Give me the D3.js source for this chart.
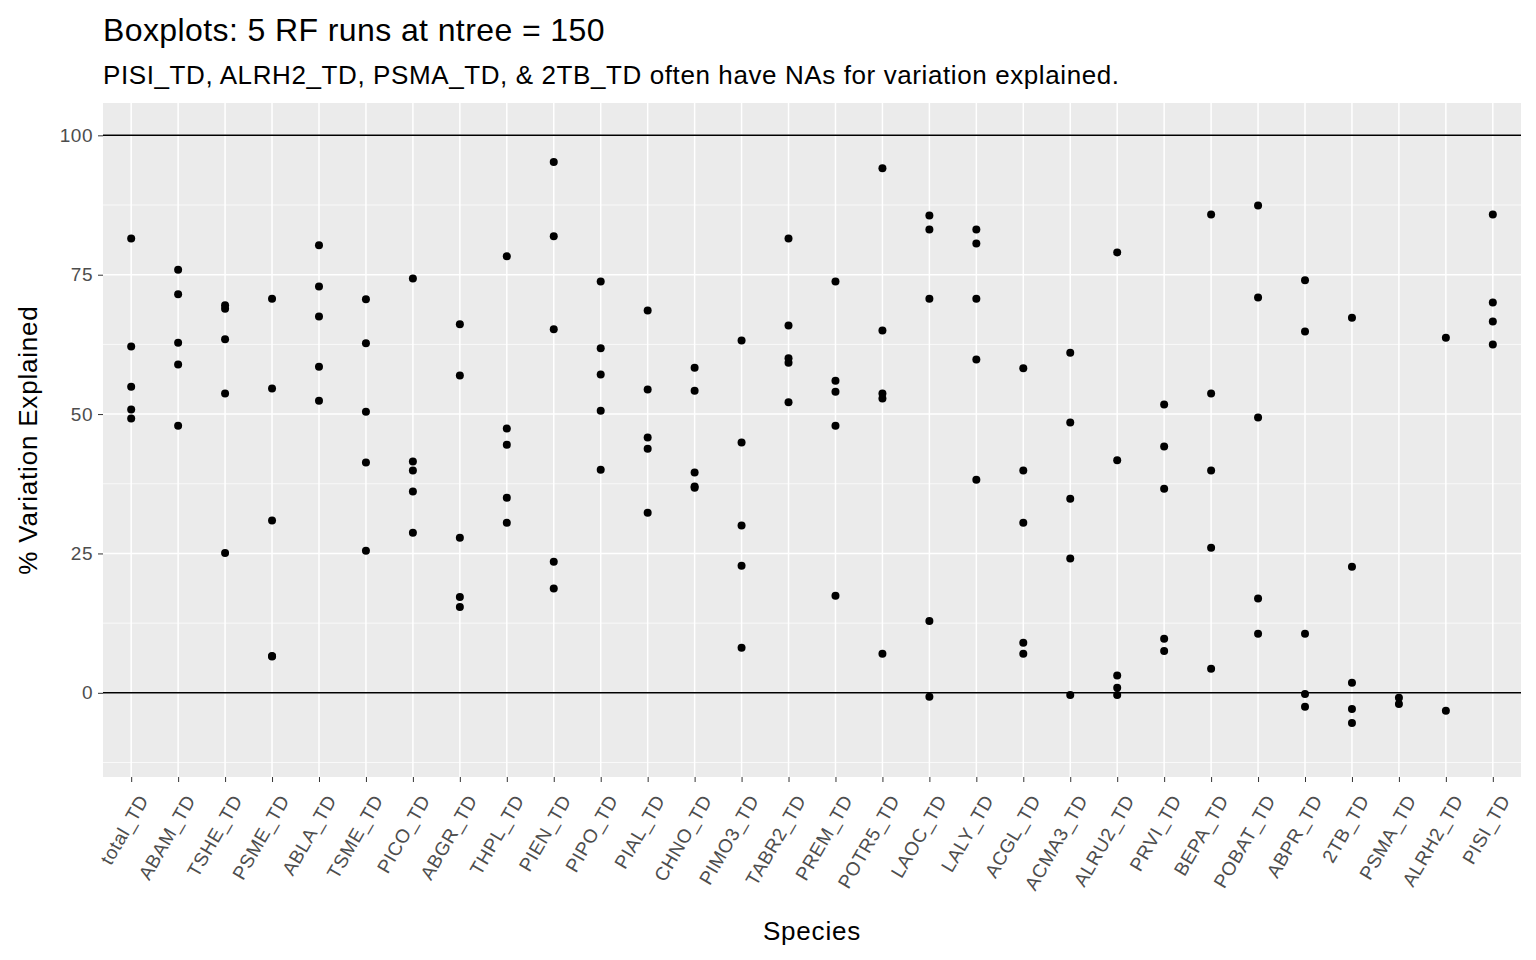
<!DOCTYPE html>
<html lang="en">
<head>
<meta charset="UTF-8" />
<title>Boxplots: 5 RF runs</title>
<script src="https://d3js.org/d3.v7.min.js"></script>
<style>
  body { margin: 0; background: white; font-family: "Liberation Sans", Arial, sans-serif; }
  text { font-family: "Liberation Sans", Arial, sans-serif; }
</style>
</head>
<body>
<div id="chart"></div>
<script>
// --- Data ---
const species = ["total_TD","ABAM_TD","TSHE_TD","PSME_TD","ABLA_TD","TSME_TD","PICO_TD","ABGR_TD","THPL_TD","PIEN_TD",
  "PIPO_TD","PIAL_TD","CHNO_TD","PIMO3_TD","TABR2_TD","PREM_TD","POTR5_TD","LAOC_TD","LALY_TD","ACGL_TD",
  "ACMA3_TD","ALRU2_TD","PRVI_TD","BEPA_TD","POBAT_TD","ABPR_TD","2TB_TD","PSMA_TD","ALRH2_TD","PISI_TD"];
const runValues = [
  [81.5,62.1,54.9,50.8,49.2],
  [75.9,71.5,62.8,58.9,47.9],
  [69.5,68.9,63.4,53.7,25.1],
  [70.7,54.6,30.9,6.6,6.5],
  [80.3,72.9,67.5,58.5,52.4],
  [70.6,62.7,50.4,41.3,25.5],
  [74.3,41.5,39.9,36.1,28.7],
  [66.1,56.9,27.8,17.2,15.4],
  [78.3,47.4,44.5,35.0,30.5],
  [95.2,81.9,65.2,23.5,18.7],
  [73.8,61.8,57.1,50.6,40.0],
  [68.6,54.4,45.8,43.8,32.3],
  [58.3,54.2,39.5,37.0,36.8],
  [63.2,44.9,30.0,22.8,8.1],
  [81.5,65.9,60.0,59.2,52.1],
  [73.8,56.0,54.0,47.9,17.4],
  [94.1,65.0,53.7,52.8,7.0],
  [85.6,83.1,70.7,12.9,-0.7],
  [83.1,80.6,70.7,59.8,38.2],
  [58.2,39.9,30.5,9.0,7.0],
  [61.0,48.5,34.8,24.1,-0.4],
  [79.0,41.7,3.1,0.9,-0.4],
  [51.7,44.2,36.6,9.7,7.5],
  [85.8,53.7,39.9,26.0,4.3],
  [87.4,70.9,49.4,16.9,10.6],
  [74.0,64.8,10.6,-0.2,-2.5],
  [67.3,22.6,1.8,-2.9,-5.4],
  [-0.9,-2.0],
  [63.7,-3.2],
  [85.8,70.0,66.6,62.5]
];
const yTicks = [0, 25, 50, 75, 100];
const yMinor = [-12.5, 12.5, 37.5, 62.5, 87.5];
const refLines = [0, 100];

// --- Layout ---
const W = 1536, H = 960;
const plot = { left: 103, right: 1521, top: 103, bottom: 777 };

const svg = d3.select("#chart").append("svg").attr("width", W).attr("height", H);

const x = d3.scalePoint().domain(species).range([plot.left, plot.right]).padding(0.6);
const y = d3.scaleLinear().domain([-15.1, 105.8]).range([plot.bottom, plot.top]);

// panel background
svg.append("rect").attr("x", plot.left).attr("y", plot.top)
  .attr("width", plot.right - plot.left).attr("height", plot.bottom - plot.top)
  .attr("fill", "#EBEBEB");

// minor + major grid
svg.selectAll(".ymin").data(yMinor).join("line")
  .attr("x1", plot.left).attr("x2", plot.right)
  .attr("y1", d => y(d)).attr("y2", d => y(d))
  .attr("stroke", "white").attr("stroke-width", 0.7);
svg.selectAll(".ymaj").data(yTicks).join("line")
  .attr("x1", plot.left).attr("x2", plot.right)
  .attr("y1", d => y(d)).attr("y2", d => y(d))
  .attr("stroke", "white").attr("stroke-width", 1.5);
svg.selectAll(".xmaj").data(species).join("line")
  .attr("x1", d => x(d)).attr("x2", d => x(d))
  .attr("y1", plot.top).attr("y2", plot.bottom)
  .attr("stroke", "white").attr("stroke-width", 1.5);

// reference lines at 0 and 100
svg.selectAll(".ref").data(refLines).join("line")
  .attr("x1", plot.left).attr("x2", plot.right)
  .attr("y1", d => y(d)).attr("y2", d => y(d))
  .attr("stroke", "black").attr("stroke-width", 1.5);

// points
const pts = species.flatMap((s, i) => runValues[i].map(v => ({ s, v })));
svg.selectAll(".pt").data(pts).join("circle")
  .attr("cx", d => x(d.s)).attr("cy", d => y(d.v)).attr("r", 4)
  .attr("fill", "black");

// y axis
const yAxis = svg.append("g").attr("transform", `translate(${plot.left},0)`)
  .call(d3.axisLeft(y).tickValues(yTicks).tickSize(5).tickPadding(5));
yAxis.select(".domain").remove();
yAxis.selectAll("line").attr("stroke", "#333");
yAxis.selectAll("text").attr("fill", "#4D4D4D").style("font-size", "19px").style("letter-spacing", "0.5px");

// x axis
const xAxis = svg.append("g").attr("transform", `translate(0,${plot.bottom})`)
  .call(d3.axisBottom(x).tickSize(5).tickPadding(4));
xAxis.select(".domain").remove();
xAxis.selectAll("line").attr("stroke", "#333");
xAxis.selectAll("text").attr("fill", "#4D4D4D").style("font-size", "19px").style("letter-spacing", "0.6px")
  .attr("text-anchor", "end").attr("dy", "0.35em")
  .attr("transform", "translate(4,15) rotate(-60)");

// titles
svg.append("text").attr("x", plot.left).attr("y", 41).text("Boxplots: 5 RF runs at ntree = 150")
  .style("font-size", "32px").style("letter-spacing", "0.4px").attr("fill", "black");
svg.append("text").attr("x", plot.left).attr("y", 84)
  .text("PISI_TD, ALRH2_TD, PSMA_TD, & 2TB_TD often have NAs for variation explained.")
  .style("font-size", "26px").style("letter-spacing", "0.6px").attr("fill", "black");
svg.append("text").attr("x", (plot.left + plot.right) / 2).attr("y", 940)
  .attr("text-anchor", "middle").text("Species").style("font-size", "26px").style("letter-spacing", "0.8px");
svg.append("text").attr("transform", `translate(37,${(plot.top + plot.bottom) / 2}) rotate(-90)`)
  .attr("text-anchor", "middle").text("% Variation Explained").style("font-size", "26px").style("letter-spacing", "0.8px");
</script>
</body>
</html>
